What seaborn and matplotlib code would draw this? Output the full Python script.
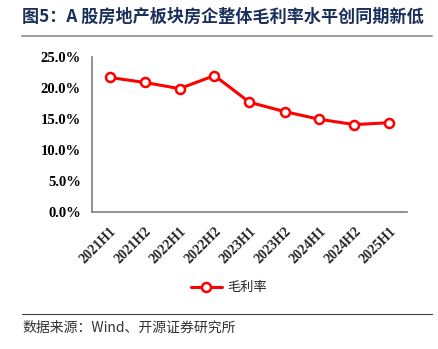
import matplotlib
matplotlib.use("Agg")
import matplotlib.pyplot as plt
import seaborn as sns
import pandas as pd
from matplotlib.ticker import FuncFormatter, FixedLocator
from matplotlib.lines import Line2D

periods = ["2021H1", "2021H2", "2022H1", "2022H2", "2023H1", "2023H2", "2024H1", "2024H2", "2025H1"]
gross_margin = [21.7, 20.9, 19.9, 22.0, 17.7, 16.2, 14.95, 14.1, 14.4]
series_name = "毛利率"
title_text = "图5：A 股房地产板块房企整体毛利率水平创同期新低"
source_text = "数据来源：Wind、开源证券研究所"
y_ticks = [0, 5, 10, 15, 20, 25]

sns.set_theme(style="white")
plt.rcParams['font.family'] = ['Noto Sans CJK SC', 'DejaVu Sans']

df = pd.DataFrame({"period": periods, "value": gross_margin})

fig = plt.figure(figsize=(4.39, 3.49), dpi=100)
ax = fig.add_axes([92/439, 1-212/349, (407-92)/439, (212-57)/349])

sns.lineplot(data=df, x="period", y="value", ax=ax, color="#FF0000", linewidth=2.2,
             marker="o", markersize=6.5, markerfacecolor="white", markeredgecolor="#FF0000",
             markeredgewidth=1.8, sort=False)

ax.set_xlim(-0.5, len(periods)-0.5)
ax.set_ylim(0, 25)
ax.set_xlabel("")
ax.set_ylabel("")
ax.yaxis.set_major_locator(FixedLocator(y_ticks))
ax.yaxis.set_major_formatter(FuncFormatter(lambda v, p: f"{v:.1f}%"))

ax.set_xticks(range(len(periods)))
ax.set_xticklabels(periods)
ax.set_xticks([i - 0.5 for i in range(len(periods)+1)], minor=True)
ax.tick_params(axis="x", which="major", length=0, pad=9)
ax.tick_params(axis="x", which="minor", length=4, direction="in", color="#808080", width=1)
ax.tick_params(axis="y", which="major", length=4, direction="in", color="#808080", width=1, pad=8)

for lab in ax.get_xticklabels():
    lab.set_family(["Liberation Serif"])
    lab.set_fontweight("bold")
    lab.set_fontsize(10)
    lab.set_rotation(45)
    lab.set_ha("right")
    lab.set_rotation_mode("anchor")
for lab in ax.get_yticklabels():
    lab.set_family(["Liberation Serif"])
    lab.set_fontweight("bold")
    lab.set_fontsize(10.5)
    lab.set_color("black")

for s in ["top", "right"]:
    ax.spines[s].set_visible(False)
for s in ["left", "bottom"]:
    ax.spines[s].set_color("#808080")
    ax.spines[s].set_linewidth(1.2)
ax.grid(False)

handle = Line2D([], [], color="#FF0000", linewidth=2.2, marker="o", markersize=6.5,
                markerfacecolor="white", markeredgecolor="#FF0000", markeredgewidth=1.8)
fig.legend([handle], [series_name], loc="center", bbox_to_anchor=(229/439, 1-288/349),
           frameon=False, fontsize=9.5, handlelength=2.4, handletextpad=0.4)

fig.text(22/439, 1-17/349, title_text, fontsize=12.3, fontweight="bold", color="#1A2F5C",
         ha="left", va="center")
fig.add_artist(Line2D([22/439, 432/439], [1-36/349, 1-36/349], color="#A0A0A0", linewidth=1.5))
fig.add_artist(Line2D([22/439, 432/439], [1-314/349, 1-314/349], color="#404040", linewidth=0.8))
fig.text(22/439, 1-328/349, source_text, fontsize=10, color="#333333", ha="left", va="center")

fig.savefig("out.png", dpi=100)
